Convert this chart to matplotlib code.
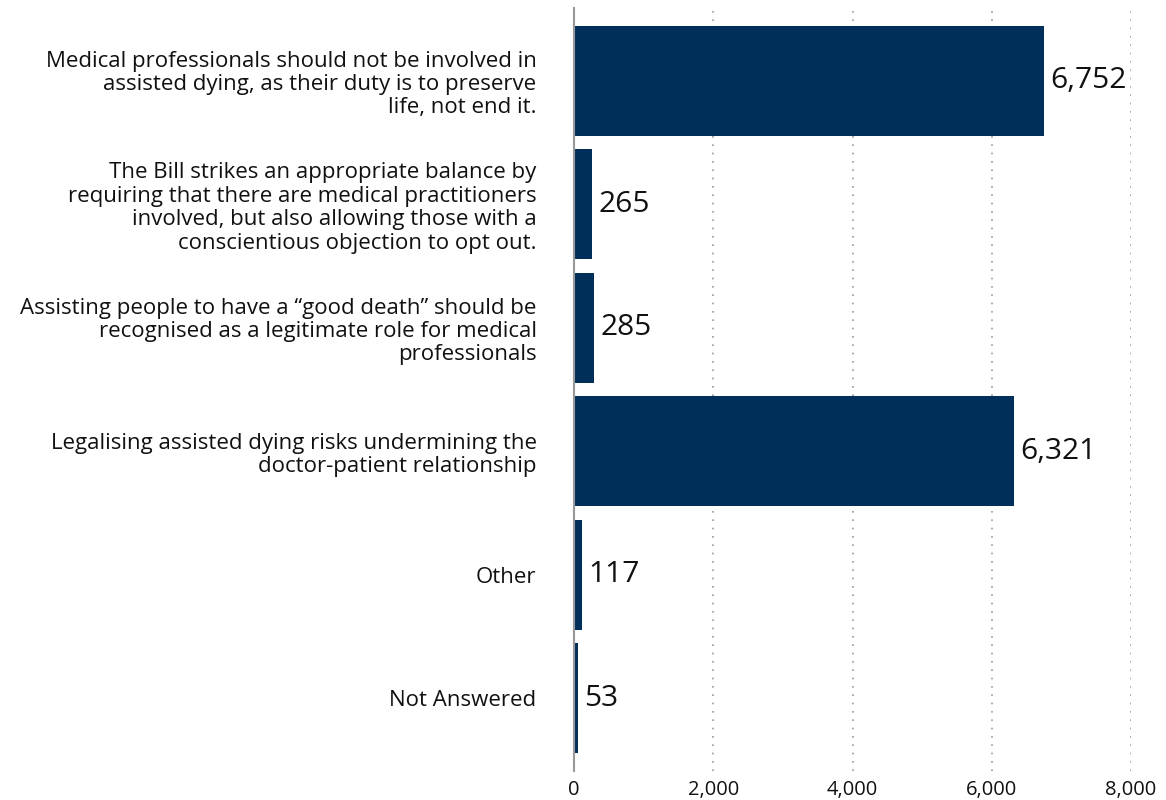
import matplotlib
matplotlib.use("Agg")
import matplotlib.pyplot as plt
from matplotlib.ticker import FuncFormatter

plt.rcParams['font.family'] = ['Open Sans', 'DejaVu Sans']

categories = [
    "Medical professionals should not be involved in\nassisted dying, as their duty is to preserve\nlife, not end it.",
    "The Bill strikes an appropriate balance by\nrequiring that there are medical practitioners\ninvolved, but also allowing those with a\nconscientious objection to opt out.",
    "Assisting people to have a \u201cgood death\u201d should be\nrecognised as a legitimate role for medical\nprofessionals",
    "Legalising assisted dying risks undermining the\ndoctor-patient relationship",
    "Other",
    "Not Answered",
]
values = [6752, 265, 285, 6321, 117, 53]
x_ticks = [0, 2000, 4000, 6000, 8000]

bar_color = "#00305A"

fig = plt.figure(figsize=(11.66, 8.0), dpi=100)
ax = fig.add_axes([0.4923, 0.036, 0.4777, 0.954])

y = list(range(len(categories)))
ax.barh(y, values, height=0.89, color=bar_color, zorder=3)
ax.set_ylim(len(categories) - 0.5 + 0.09, -0.5 - 0.09)
ax.set_xlim(0, 8000)

for yi, v in zip(y, values):
    ax.text(v + 90, yi, f"{v:,}", va="center", ha="left", fontsize=21.5,
            color="#111111", zorder=4)

ax.set_yticks(y)
ax.set_yticklabels(categories, fontsize=16, color="#111111", linespacing=1.15)
ax.set_xticks(x_ticks)
ax.xaxis.set_major_formatter(FuncFormatter(lambda v, p: f"{int(v):,}"))
ax.tick_params(axis='x', length=0, labelsize=14.5, labelcolor="#111111", pad=6)
ax.tick_params(axis='y', length=0, pad=27)

for s in ["top", "right", "bottom"]:
    ax.spines[s].set_visible(False)
ax.spines["left"].set_color("#999999")
ax.spines["left"].set_linewidth(1.5)
ax.spines["left"].set_zorder(5)

ax.grid(axis='x', linestyle=(0, (1, 4)), color="#999999", linewidth=1.2, zorder=0)
ax.grid(axis='y', visible=False)
ax.xaxis.get_gridlines()[0].set_visible(False)

fig.savefig("out.png", dpi=100, facecolor="white")
